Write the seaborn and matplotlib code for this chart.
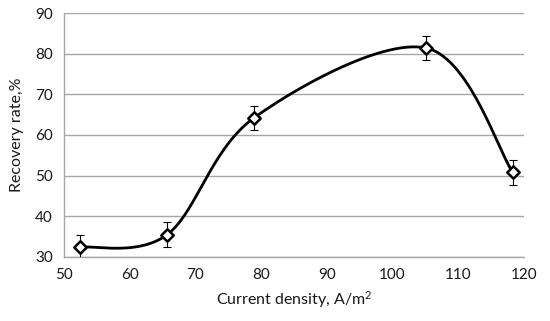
import numpy as np
import pandas as pd
import seaborn as sns
import matplotlib.pyplot as plt

current_density = [52.5, 65.7, 78.9, 105.1, 118.3]
recovery_rate = [32.4, 35.5, 64.2, 81.4, 50.8]
error = [3.0, 3.0, 3.0, 3.0, 3.0]


def excel_smooth(x, y, n=60):
    # Catmull-Rom style bezier, like Excel's "smoothed line"
    pts = np.column_stack([x, y])
    pts = np.vstack([pts[0], pts, pts[-1]])
    out = []
    t = np.linspace(0, 1, n)[:, None]
    for i in range(1, len(pts) - 2):
        p0, p1, p2, p3 = pts[i - 1], pts[i], pts[i + 1], pts[i + 2]
        c1 = p1 + (p2 - p0) / 6
        c2 = p2 - (p3 - p1) / 6
        seg = ((1 - t) ** 3) * p1 + 3 * ((1 - t) ** 2) * t * c1 + 3 * (1 - t) * t ** 2 * c2 + t ** 3 * p2
        out.append(seg)
    out = np.vstack(out)
    return out[:, 0], out[:, 1]


df = pd.DataFrame({'x': current_density, 'y': recovery_rate, 'err': error})
sx, sy = excel_smooth(df['x'].values, df['y'].values)

sns.set_style('white')
plt.rcParams['font.family'] = ['Lato', 'DejaVu Sans']
plt.rcParams['mathtext.fontset'] = 'custom'
plt.rcParams['mathtext.rm'] = 'Lato'
plt.rcParams['mathtext.default'] = 'regular'

fig = plt.figure(figsize=(5.5, 3.21), dpi=100)
ax = fig.add_axes([0.1164, 0.1994, 0.8363, 0.7601])

ax.plot(sx, sy, color='black', lw=2, zorder=3)
ax.errorbar(df['x'], df['y'], yerr=df['err'], fmt='none', ecolor='black',
            elinewidth=0.8, capsize=3, capthick=0.8, zorder=4)
sns.scatterplot(data=df, x='x', y='y', marker='D', s=40, facecolor='white',
                edgecolor='black', linewidth=1.8, zorder=5, ax=ax)

ax.set_xlim(50, 120)
ax.set_ylim(30, 90)
ax.set_xticks(range(50, 121, 10))
ax.set_yticks(range(30, 91, 10))
ax.yaxis.grid(True, color='#a6a6a6', lw=1)
ax.xaxis.grid(False)
for s in ['top', 'right']:
    ax.spines[s].set_visible(False)
for s in ['left', 'bottom']:
    ax.spines[s].set_color('#a6a6a6')
    ax.spines[s].set_linewidth(1)
ax.tick_params(axis='both', length=0, labelsize=11, colors='#1a1a1a', pad=8)
ax.set_xlabel('Current density, A/m$^{2}$', fontsize=11.5, color='#1a1a1a', labelpad=5)
ax.set_ylabel('Recovery rate,%', fontsize=11.5, color='#1a1a1a', labelpad=8)

fig.savefig('out.png', dpi=100)
